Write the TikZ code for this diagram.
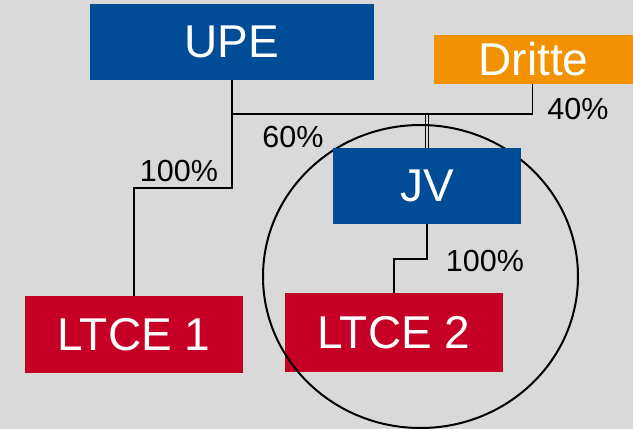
\documentclass[tikz,border=0pt]{standalone}
\usepackage{fontspec}
\setmainfont{Liberation Sans}
\usetikzlibrary{shapes.geometric}
\definecolor{bgray}{HTML}{D9D9D9}
\definecolor{upeblue}{HTML}{004C97}
\definecolor{ltred}{HTML}{C60024}
\definecolor{dorange}{HTML}{F39200}
\tikzset{
  box/.style={rectangle, inner sep=0pt, text=white, font=\fontsize{46}{50}\selectfont},
  bluebox/.style={box, fill=upeblue},
  redbox/.style={box, fill=ltred},
  orangebox/.style={box, fill=dorange},
  conn/.style={draw=black, line width=1.1pt},
  pct/.style={inner sep=0pt, text=black, font=\fontsize{30.5}{34}\selectfont},
  ring/.style={draw=black, line width=2pt, ellipse, inner sep=0pt}
}
\begin{document}
\begin{tikzpicture}[x=1pt,y=-1pt]
\fill[bgray] (0,0) rectangle (633,429);
\useasboundingbox (0,0) rectangle (633,429);
\node[bluebox, minimum width=284pt, minimum height=76pt] (upe) at (232,42) {UPE};
\node[orangebox, minimum width=199pt, minimum height=49pt] (dritte) at (533.5,59.5) {Dritte};
\node[redbox, minimum width=218pt, minimum height=77pt] (ltce1) at (134,334.5) {LTCE 1};
\node[redbox, minimum width=218pt, minimum height=79pt] (ltce2) at (394,332.5) {LTCE 2};
\node[ring, minimum width=315pt, minimum height=303pt] (grp) at (420.5,276.5) {};
\node[bluebox, minimum width=188pt, minimum height=76pt] (jv) at (427,186) {JV};
\coordinate (bus) at (0,114);
\coordinate (h1) at (0,188);
\coordinate (h2) at (0,259);
\draw[conn] (upe.south) -- (upe.south |- h1) -| (ltce1.north);
\draw[conn] (upe.south |- bus) -- ([xshift=-1pt]dritte.south |- bus) -- ([xshift=-1pt]dritte.south);
\draw[conn] ([xshift=-1.6pt]jv.north) -- ([xshift=-1.6pt]jv.north |- bus);
\draw[conn] ([xshift=1.2pt]jv.north) -- ([xshift=1.2pt]jv.north |- bus);
\draw[conn] (jv.south) -- (jv.south |- h2) -| (ltce2.north);
\node[pct] (p1) at (179,170.5) {100\%};
\node[pct] (p2) at (293,136.5) {60\%};
\node[pct] (p3) at (578,109) {40\%};
\node[pct] (p4) at (485,261) {100\%};
\end{tikzpicture}
\end{document}
